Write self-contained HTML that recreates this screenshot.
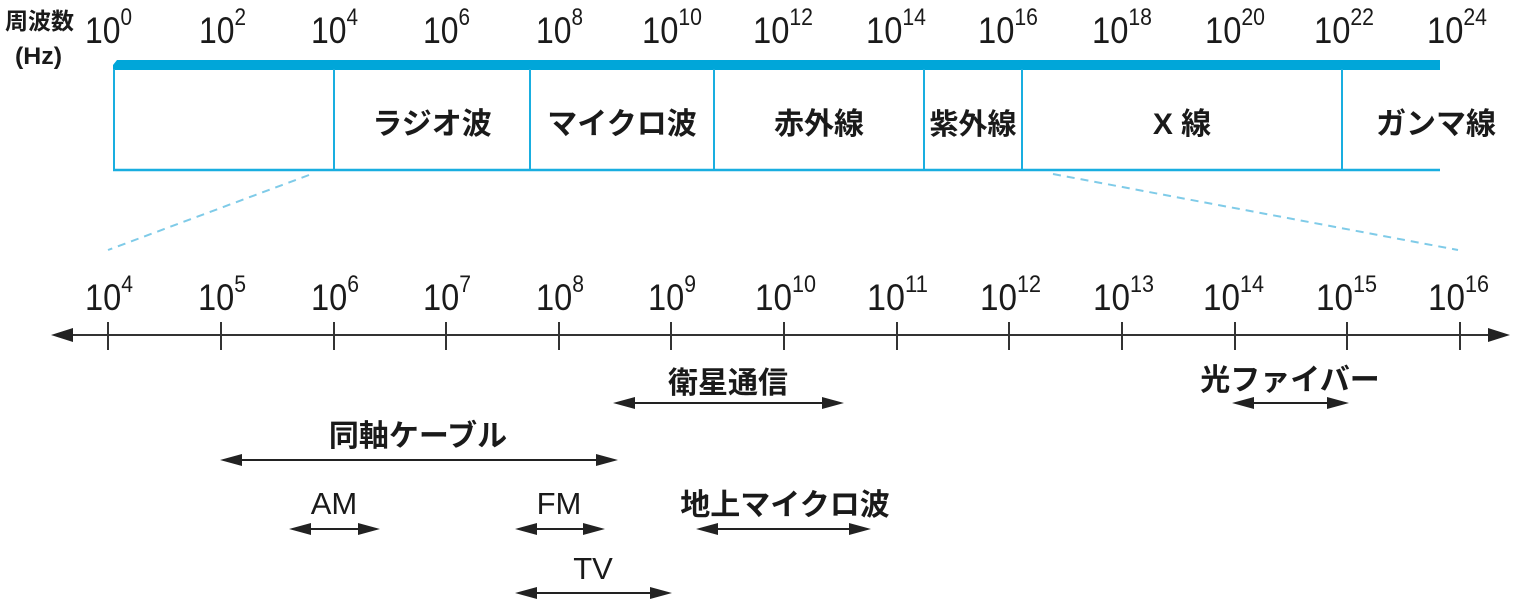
<!DOCTYPE html>
<html><head><meta charset="utf-8"><style>
html,body{margin:0;padding:0;background:#fff;}
svg{display:block;}
text{font-family:"Liberation Sans","Noto Sans CJK JP",sans-serif;fill:#1a1a1a;}
.n{font-size:37px;}
.s{font-size:24px;}
.j{font-size:30px;font-weight:bold;}
.l{font-size:31px;}
</style></head><body>
<svg width="1529" height="600" viewBox="0 0 1529 600" xmlns="http://www.w3.org/2000/svg">
<text x="5" y="29" style="font-size:23px;font-weight:bold">周波数</text>
<text x="15" y="64" style="font-size:24px;font-weight:bold" textLength="47" lengthAdjust="spacingAndGlyphs">(Hz)</text>
<g class="n">
<text x="85" y="43" textLength="47" lengthAdjust="spacingAndGlyphs">10<tspan class="s" dy="-18">0</tspan></text>
<text x="199" y="43" textLength="47" lengthAdjust="spacingAndGlyphs">10<tspan class="s" dy="-18">2</tspan></text>
<text x="311" y="43" textLength="47" lengthAdjust="spacingAndGlyphs">10<tspan class="s" dy="-18">4</tspan></text>
<text x="423" y="43" textLength="47" lengthAdjust="spacingAndGlyphs">10<tspan class="s" dy="-18">6</tspan></text>
<text x="536" y="43" textLength="47" lengthAdjust="spacingAndGlyphs">10<tspan class="s" dy="-18">8</tspan></text>
<text x="642" y="43" textLength="60" lengthAdjust="spacingAndGlyphs">10<tspan class="s" dy="-18">10</tspan></text>
<text x="753" y="43" textLength="60" lengthAdjust="spacingAndGlyphs">10<tspan class="s" dy="-18">12</tspan></text>
<text x="866" y="43" textLength="60" lengthAdjust="spacingAndGlyphs">10<tspan class="s" dy="-18">14</tspan></text>
<text x="978" y="43" textLength="60" lengthAdjust="spacingAndGlyphs">10<tspan class="s" dy="-18">16</tspan></text>
<text x="1092" y="43" textLength="60" lengthAdjust="spacingAndGlyphs">10<tspan class="s" dy="-18">18</tspan></text>
<text x="1205" y="43" textLength="60" lengthAdjust="spacingAndGlyphs">10<tspan class="s" dy="-18">20</tspan></text>
<text x="1314" y="43" textLength="60" lengthAdjust="spacingAndGlyphs">10<tspan class="s" dy="-18">22</tspan></text>
<text x="1427" y="43" textLength="60" lengthAdjust="spacingAndGlyphs">10<tspan class="s" dy="-18">24</tspan></text>
</g>
<polygon points="117,60 1440,60 1440,70 113,70 113,65" fill="#00a6d9"/>
<g stroke="#19aee0" stroke-width="2" fill="none">
<line x1="114" y1="69" x2="114" y2="170"/>
<line x1="113" y1="170" x2="1440" y2="170" stroke-width="2.5"/>
<line x1="334" y1="69" x2="334" y2="170"/>
<line x1="530" y1="69" x2="530" y2="170"/>
<line x1="714" y1="69" x2="714" y2="170"/>
<line x1="924" y1="69" x2="924" y2="170"/>
<line x1="1022" y1="69" x2="1022" y2="170"/>
<line x1="1342" y1="69" x2="1342" y2="170"/>
</g>
<g class="j">
<text x="432" y="134" text-anchor="middle">ラジオ波</text>
<text x="622" y="134" text-anchor="middle">マイクロ波</text>
<text x="819" y="134" text-anchor="middle">赤外線</text>
<text x="973" y="134" text-anchor="middle" style="font-size:29px">紫外線</text>
<text x="1182" y="134" text-anchor="middle">X 線</text>
<text x="1436" y="134" text-anchor="middle">ガンマ線</text>
</g>
<g stroke="#7fcbe8" stroke-width="2" stroke-dasharray="8,6">
<line x1="309" y1="175" x2="108" y2="250"/>
<line x1="1053" y1="174" x2="1458" y2="250"/>
</g>
<line x1="70" y1="335" x2="1490" y2="335" stroke="#333" stroke-width="2"/>
<polygon points="51,335 73,328 73,342" fill="#222"/>
<polygon points="1510,335 1488,328 1488,342" fill="#222"/>
<g stroke="#333" stroke-width="2">
<line x1="108" y1="322" x2="108" y2="350"/>
<line x1="221" y1="322" x2="221" y2="350"/>
<line x1="334" y1="322" x2="334" y2="350"/>
<line x1="446" y1="322" x2="446" y2="350"/>
<line x1="559" y1="322" x2="559" y2="350"/>
<line x1="671" y1="322" x2="671" y2="350"/>
<line x1="784" y1="322" x2="784" y2="350"/>
<line x1="897" y1="322" x2="897" y2="350"/>
<line x1="1009" y1="322" x2="1009" y2="350"/>
<line x1="1122" y1="322" x2="1122" y2="350"/>
<line x1="1235" y1="322" x2="1235" y2="350"/>
<line x1="1347" y1="322" x2="1347" y2="350"/>
<line x1="1460" y1="322" x2="1460" y2="350"/>
</g>
<g class="n">
<text x="85" y="310" textLength="48" lengthAdjust="spacingAndGlyphs">10<tspan class="s" dy="-18">4</tspan></text>
<text x="198" y="310" textLength="48" lengthAdjust="spacingAndGlyphs">10<tspan class="s" dy="-18">5</tspan></text>
<text x="311" y="310" textLength="48" lengthAdjust="spacingAndGlyphs">10<tspan class="s" dy="-18">6</tspan></text>
<text x="423" y="310" textLength="48" lengthAdjust="spacingAndGlyphs">10<tspan class="s" dy="-18">7</tspan></text>
<text x="536" y="310" textLength="48" lengthAdjust="spacingAndGlyphs">10<tspan class="s" dy="-18">8</tspan></text>
<text x="648" y="310" textLength="48" lengthAdjust="spacingAndGlyphs">10<tspan class="s" dy="-18">9</tspan></text>
<text x="755" y="310" textLength="61" lengthAdjust="spacingAndGlyphs">10<tspan class="s" dy="-18">10</tspan></text>
<text x="867" y="310" textLength="61" lengthAdjust="spacingAndGlyphs">10<tspan class="s" dy="-18">11</tspan></text>
<text x="980" y="310" textLength="61" lengthAdjust="spacingAndGlyphs">10<tspan class="s" dy="-18">12</tspan></text>
<text x="1093" y="310" textLength="61" lengthAdjust="spacingAndGlyphs">10<tspan class="s" dy="-18">13</tspan></text>
<text x="1203" y="310" textLength="61" lengthAdjust="spacingAndGlyphs">10<tspan class="s" dy="-18">14</tspan></text>
<text x="1316" y="310" textLength="61" lengthAdjust="spacingAndGlyphs">10<tspan class="s" dy="-18">15</tspan></text>
<text x="1428" y="310" textLength="61" lengthAdjust="spacingAndGlyphs">10<tspan class="s" dy="-18">16</tspan></text>
</g>
<g stroke="#222" stroke-width="2">
<line x1="630" y1="403" x2="828" y2="403"/>
<line x1="1248" y1="403" x2="1333" y2="403"/>
<line x1="236" y1="460" x2="602" y2="460"/>
<line x1="305" y1="529" x2="364" y2="529"/>
<line x1="531" y1="529" x2="589" y2="529"/>
<line x1="712" y1="529" x2="855" y2="529"/>
<line x1="531" y1="593" x2="656" y2="593"/>
</g>
<g fill="#222">
<polygon points="613,403 635,397 635,409"/><polygon points="844,403 822,397 822,409"/>
<polygon points="1232,403 1254,397 1254,409"/><polygon points="1349,403 1327,397 1327,409"/>
<polygon points="220,460 242,454 242,466"/><polygon points="618,460 596,454 596,466"/>
<polygon points="289,529 311,523 311,535"/><polygon points="380,529 358,523 358,535"/>
<polygon points="515,529 537,523 537,535"/><polygon points="605,529 583,523 583,535"/>
<polygon points="696,529 718,523 718,535"/><polygon points="871,529 849,523 849,535"/>
<polygon points="515,593 537,587 537,599"/><polygon points="672,593 650,587 650,599"/>
</g>
<g class="j">
<text x="728" y="393" text-anchor="middle">衛星通信</text>
<text x="1290" y="390" text-anchor="middle">光ファイバー</text>
<text x="418" y="446" text-anchor="middle">同軸ケーブル</text>
<text x="785" y="515" text-anchor="middle">地上マイクロ波</text>
</g>
<g class="l">
<text x="334" y="514" text-anchor="middle">AM</text>
<text x="559" y="514" text-anchor="middle">FM</text>
<text x="593" y="579" text-anchor="middle">TV</text>
</g>
</svg>
</body></html>
